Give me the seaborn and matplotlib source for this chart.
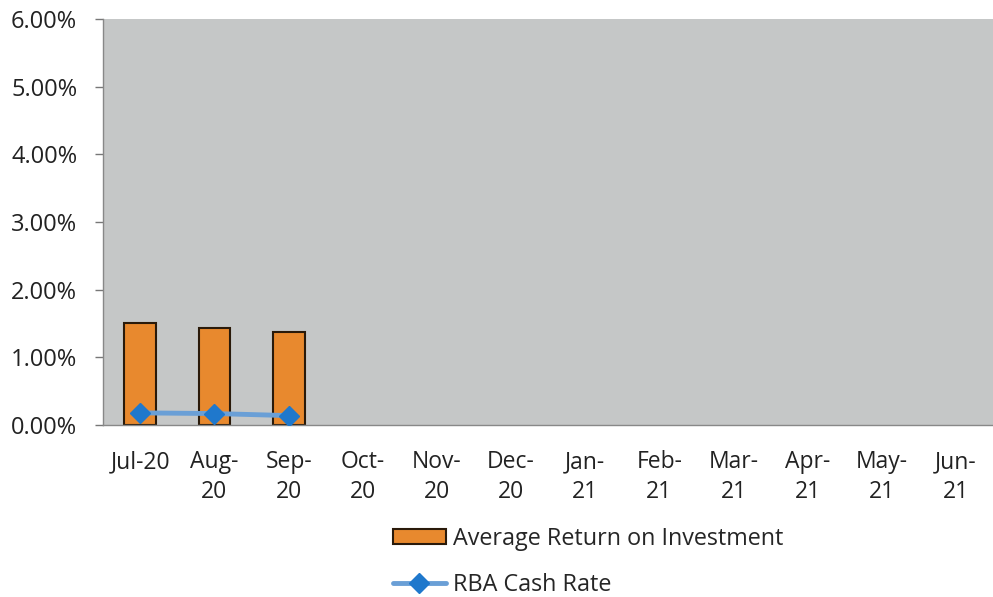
import numpy as np
import pandas as pd
import seaborn as sns
import matplotlib.pyplot as plt
from matplotlib.ticker import PercentFormatter

# %% veriler
months = ["Jul-20", "Aug-20", "Sep-20", "Oct-20", "Nov-20", "Dec-20",
          "Jan-21", "Feb-21", "Mar-21", "Apr-21", "May-21", "Jun-21"]
tick_labels = ["Jul-20", "Aug-\n20", "Sep-\n20", "Oct-\n20", "Nov-\n20", "Dec-\n20",
               "Jan-\n21", "Feb-\n21", "Mar-\n21", "Apr-\n21", "May-\n21", "Jun-\n21"]
avg_return = [1.51, 1.43, 1.37, np.nan, np.nan, np.nan,
              np.nan, np.nan, np.nan, np.nan, np.nan, np.nan]
rba_rate = [0.18, 0.17, 0.14, np.nan, np.nan, np.nan,
            np.nan, np.nan, np.nan, np.nan, np.nan, np.nan]

df = pd.DataFrame({"month": months, "ret": avg_return, "rba": rba_rate})

# %% grafik
sns.set_style("white")
plt.rcParams["font.family"] = ["Open Sans", "DejaVu Sans"]

fig = plt.figure(figsize=(9.93, 5.97), dpi=100)
ax = fig.add_axes([0.104, 0.288, 0.896, 0.680])
ax.set_facecolor("#c5c7c7")

sns.barplot(data=df, x="month", y="ret", order=months, color="#e8892e",
            edgecolor="#2a1a0a", linewidth=1.5, width=0.43, saturation=1,
            ax=ax, label="Average Return on Investment")
ax.plot(np.arange(len(months)), df["rba"], color="#6a9fd6", linewidth=3.5,
        marker="D", markersize=10, markerfacecolor="#1f78cc",
        markeredgecolor="#1f78cc", label="RBA Cash Rate", zorder=3)
if ax.get_legend() is not None:
    ax.get_legend().remove()

ax.set_ylim(0, 6)
ax.set_xlim(-0.5, len(months) - 0.5)
ax.set_yticks(np.arange(0, 7, 1))
ax.yaxis.set_major_formatter(PercentFormatter(decimals=2))
ax.set_xticks(range(len(months)))
ax.set_xticklabels(tick_labels, linespacing=1.35)
ax.set_xticks(np.arange(-0.5, len(months), 1), minor=True)
ax.tick_params(axis="x", which="major", length=0, pad=18, labelsize=16.5, labelcolor="#222222")
ax.tick_params(axis="x", which="minor", length=6, color="#777777", width=1)
ax.tick_params(axis="y", length=5.8, color="#777777", width=1, pad=13, labelsize=17,
               left=True, labelcolor="#222222")
ax.set_xlabel("")
ax.set_ylabel("")

for s in ["top", "right"]:
    ax.spines[s].set_visible(False)
for s in ["left", "bottom"]:
    ax.spines[s].set_color("#888888")
    ax.spines[s].set_linewidth(1)

handles, labels = ax.get_legend_handles_labels()
order = [labels.index("Average Return on Investment"), labels.index("RBA Cash Rate")]
fig.legend([handles[i] for i in order], [labels[i] for i in order],
           loc="upper left", bbox_to_anchor=(0.396, 0.118),
           frameon=False, handlelength=2.25, handleheight=0.65, handletextpad=0.3,
           labelspacing=0.95, fontsize=16.8, borderaxespad=0, borderpad=0)

fig.savefig("out.png", dpi=100)
